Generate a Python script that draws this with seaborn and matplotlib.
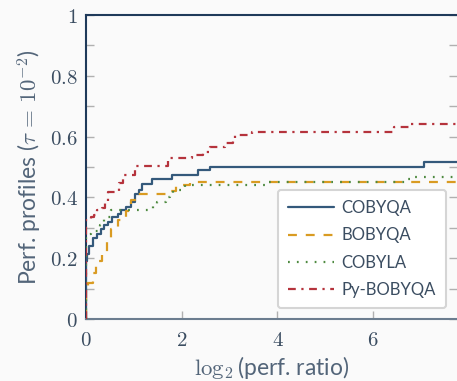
import matplotlib
matplotlib.use('Agg')
import matplotlib.pyplot as plt
import pandas as pd
import seaborn as sns

sns.set_style("ticks")
plt.rcParams['font.family'] = ['Lato', 'DejaVu Sans']
plt.rcParams['mathtext.fontset'] = 'cm'

# performance profile steps: (log2 ratio, fraction)
cobyqa_x = [0, 0, 0.03, 0.07, 0.15, 0.24, 0.31, 0.38, 0.46, 0.55, 0.66, 0.74,
            0.84, 0.94, 1.03, 1.10, 1.18, 1.37, 1.79, 2.35, 2.59, 7.07]
cobyqa_y = [0, 0.19, 0.215, 0.24, 0.265, 0.28, 0.295, 0.31, 0.32, 0.335, 0.345,
            0.36, 0.37, 0.385, 0.41, 0.425, 0.445, 0.46, 0.475, 0.49, 0.50, 0.515]

bobyqa_x = [0, 0, 0.04, 0.15, 0.20, 0.34, 0.43, 0.53, 0.66, 0.83, 0.93, 1.05,
            1.70, 1.88, 2.17]
bobyqa_y = [0, 0.11, 0.12, 0.15, 0.19, 0.22, 0.26, 0.295, 0.325, 0.355, 0.39,
            0.41, 0.42, 0.44, 0.452]

cobyla_x = [0, 0, 0.10, 0.30, 0.38, 0.52, 1.40, 1.48, 1.68, 1.75, 1.82, 2.07,
            3.74, 6.71, 6.83]
cobyla_y = [0, 0.28, 0.29, 0.31, 0.335, 0.36, 0.375, 0.386, 0.40, 0.413, 0.424,
            0.44, 0.45, 0.459, 0.466]

pybobyqa_x = [0, 0, 0.10, 0.17, 0.24, 0.34, 0.40, 0.47, 0.68, 0.78, 1.02, 1.72,
              2.21, 2.45, 2.59, 2.91, 3.08, 3.12, 3.47, 6.43, 6.78]
pybobyqa_y = [0, 0.33, 0.337, 0.342, 0.359, 0.364, 0.38, 0.419, 0.449, 0.474,
              0.503, 0.528, 0.54, 0.55, 0.567, 0.58, 0.585, 0.605, 0.616, 0.63,
              0.643]

x_end = 7.75
y_ticks = [0, 0.2, 0.4, 0.6, 0.8, 1]
y_labels = ['$0$', '$0.2$', '$0.4$', '$0.6$', '$0.8$', '$1$']
x_ticks = [0, 2, 4, 6]
x_labels = ['$0$', '$2$', '$4$', '$6$']

solvers = [
    ('COBYQA', cobyqa_x, cobyqa_y, '#34597b', '-'),
    ('BOBYQA', bobyqa_x, bobyqa_y, '#d99b22', (0, (4, 4))),
    ('COBYLA', cobyla_x, cobyla_y, '#4e8a40', (0, (0.8, 3.2))),
    ('Py-BOBYQA', pybobyqa_x, pybobyqa_y, '#b5333c', (0, (3.5, 2.5, 1, 2.5))),
]

text_col = '#3b4d61'
label_col = '#536579'
bg = '#fafafa'

fig = plt.figure(figsize=(4.57, 3.81), dpi=100, facecolor=bg)
ax = fig.add_axes([86 / 457, 1 - 319 / 381, 1 - 86 / 457, (319 - 15) / 381])
ax.set_facecolor(bg)

for name, xs, ys, col, ls in solvers:
    df = pd.DataFrame({'x': xs + [x_end], 'y': ys + [ys[-1]]})
    sns.lineplot(data=df, x='x', y='y', ax=ax, estimator=None, sort=False,
                 drawstyle='steps-post', color=col, linestyle=ls,
                 linewidth=1.6, label=name, zorder=3)

ax.set_xlim(0, x_end)
ax.set_ylim(0, 1)
ax.set_yticks(y_ticks, y_labels)
ax.set_yticks([0.1, 0.3, 0.5, 0.7, 0.9], minor=True)
ax.set_xticks(x_ticks, x_labels)

ax.tick_params(which='both', direction='in', length=6, width=1,
               color='#b0b0b0', left=True, right=True, top=False,
               labelcolor=text_col, labelsize=15)
ax.tick_params(axis='y', pad=6)
ax.tick_params(axis='x', pad=8)

for side in ['left', 'top']:
    ax.spines[side].set_color('#1f3a5a')
    ax.spines[side].set_linewidth(1.5)
ax.spines['bottom'].set_color('#6b7d8f')
ax.spines['bottom'].set_linewidth(1.5)
ax.spines['right'].set_visible(False)

ax.set_xlabel(r'$\log_2$(perf. ratio)', fontsize=16.5,
              color=label_col, labelpad=3)
ax.set_ylabel(r'Perf. profiles ($\tau\,=\,10^{-2}$)', fontsize=16.5,
              color=label_col, labelpad=4)

leg = ax.legend(loc='lower right', bbox_to_anchor=(0.970, 0.036),
                borderaxespad=0, fontsize=12, handlelength=2.75,
                handletextpad=0.45, labelspacing=0.68, frameon=True,
                fancybox=True, framealpha=1, edgecolor='#d5d5d5',
                facecolor='white', borderpad=0.6)
leg.get_frame().set_linewidth(1.5)
for t in leg.get_texts():
    t.set_color(text_col)

fig.savefig('out.png', dpi=100, facecolor=bg)
